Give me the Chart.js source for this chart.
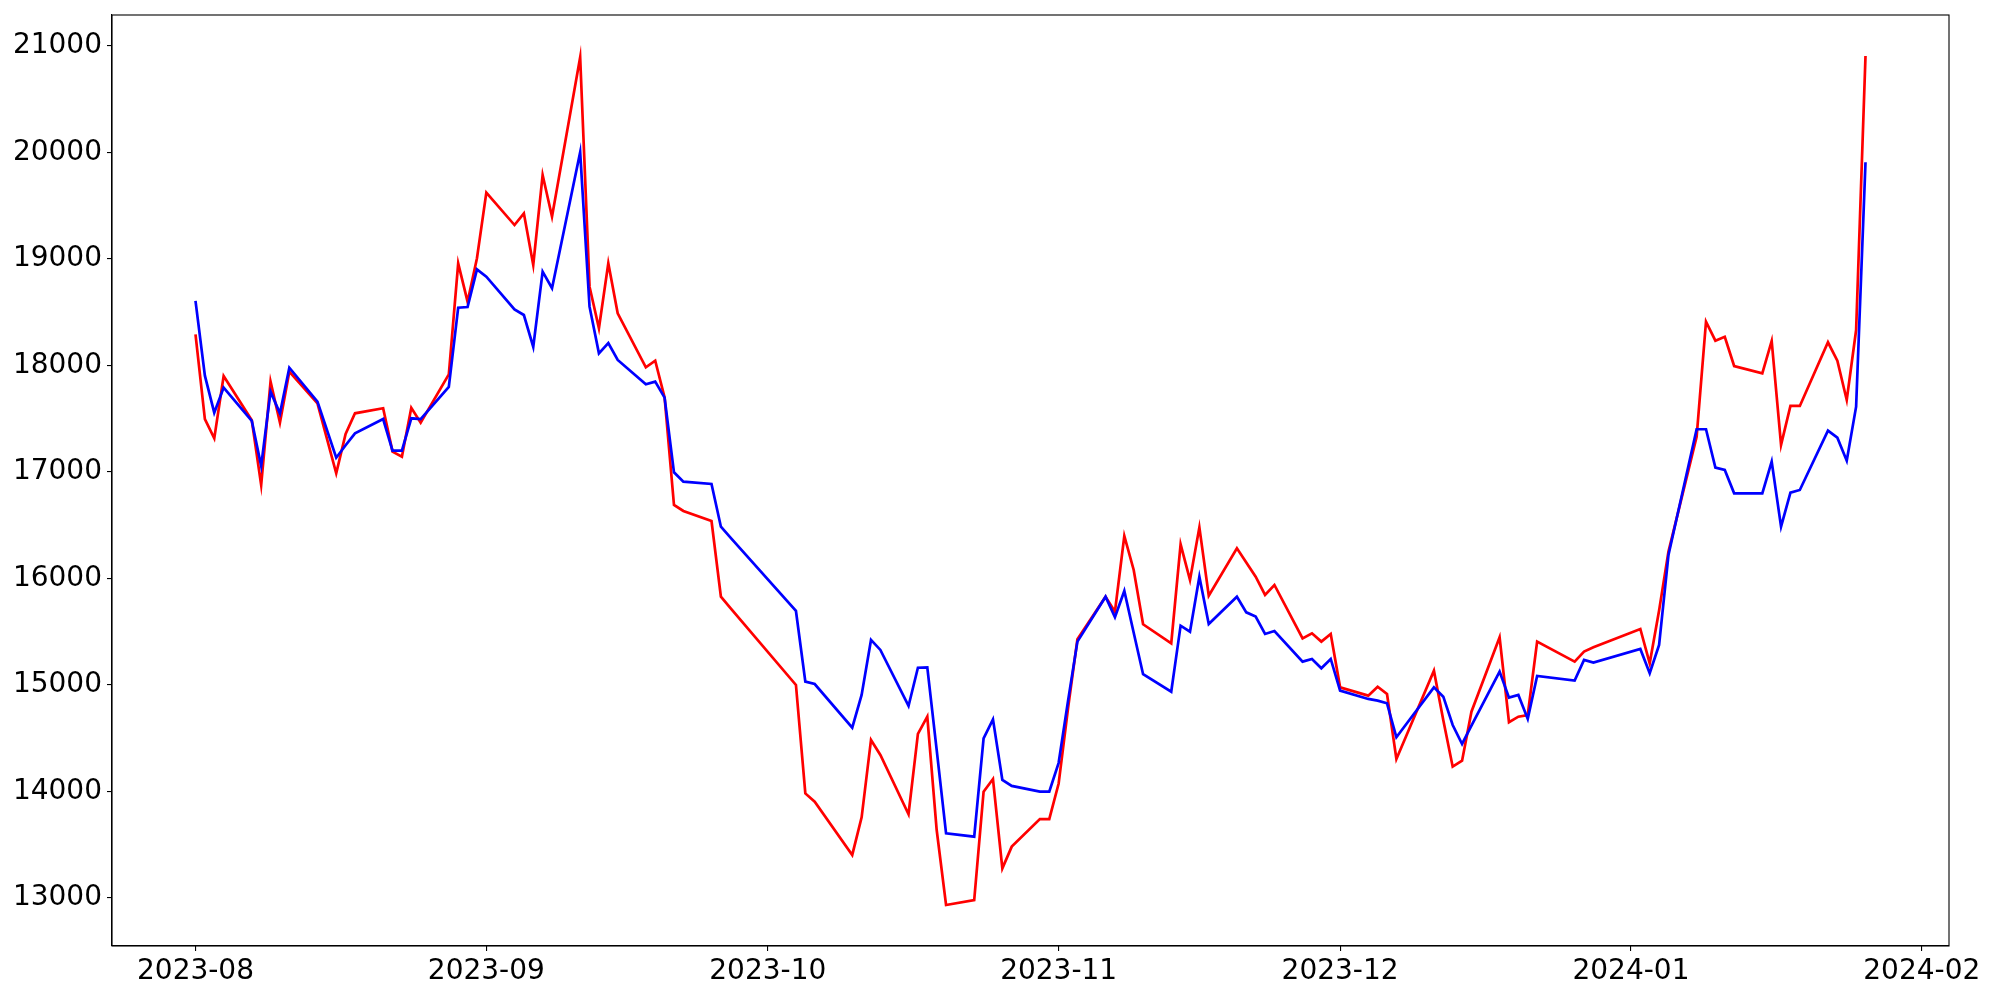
<!DOCTYPE html>
<html>
<head>
<meta charset="utf-8">
<script src="https://cdn.jsdelivr.net/npm/chart.js@4.4.0/dist/chart.umd.min.js"></script>
<style>
  body { margin: 0; background: #fff; }
  #wrap { width: 2000px; height: 1000px; }
</style>
</head>
<body>
<div id="wrap"><canvas id="chart" width="2000" height="1000"></canvas></div>
<script>
// trading days (KRX calendar)
var dates = [
  '2023-08-01','2023-08-02','2023-08-03','2023-08-04','2023-08-07','2023-08-08','2023-08-09','2023-08-10','2023-08-11',
  '2023-08-14','2023-08-16','2023-08-17','2023-08-18','2023-08-21','2023-08-22','2023-08-23','2023-08-24','2023-08-25',
  '2023-08-28','2023-08-29','2023-08-30','2023-08-31',
  '2023-09-01','2023-09-04','2023-09-05','2023-09-06','2023-09-07','2023-09-08','2023-09-11','2023-09-12','2023-09-13',
  '2023-09-14','2023-09-15','2023-09-18','2023-09-19','2023-09-20','2023-09-21','2023-09-22','2023-09-25','2023-09-26',
  '2023-09-27',
  '2023-10-04','2023-10-05','2023-10-06','2023-10-10','2023-10-11','2023-10-12','2023-10-13','2023-10-16','2023-10-17',
  '2023-10-18','2023-10-19','2023-10-20','2023-10-23','2023-10-24','2023-10-25','2023-10-26','2023-10-27','2023-10-30',
  '2023-10-31',
  '2023-11-01','2023-11-02','2023-11-03','2023-11-06','2023-11-07','2023-11-08','2023-11-09','2023-11-10','2023-11-13',
  '2023-11-14','2023-11-15','2023-11-16','2023-11-17','2023-11-20','2023-11-21','2023-11-22','2023-11-23','2023-11-24',
  '2023-11-27','2023-11-28','2023-11-29','2023-11-30',
  '2023-12-01','2023-12-04','2023-12-05','2023-12-06','2023-12-07','2023-12-08','2023-12-11','2023-12-12','2023-12-13',
  '2023-12-14','2023-12-15','2023-12-18','2023-12-19','2023-12-20','2023-12-21','2023-12-22','2023-12-26','2023-12-27',
  '2023-12-28',
  '2024-01-02','2024-01-03','2024-01-04','2024-01-05','2024-01-08','2024-01-09','2024-01-10','2024-01-11','2024-01-12',
  '2024-01-15','2024-01-16','2024-01-17','2024-01-18','2024-01-19','2024-01-22','2024-01-23','2024-01-24','2024-01-25',
  '2024-01-26'
];

var redValues = [
  18293,17497,17316,17901,17485,16878,17848,17463,17942,
  17645,16988,17357,17551,17598,17191,17144,17603,17463,
  17917,18959,18599,19007,
  19623,19319,19429,18944,19788,19397,20894,18740,18349,
  18959,18490,17983,18045,17700,16690,16634,16540,15829,
  15723,
  15000,13982,13904,13404,13757,14484,14343,13786,14540,
  14702,13638,12934,12981,13998,14117,13278,13482,13741,
  13741,
  14075,14780,15429,15829,15688,16399,16080,15570,15391,
  16321,15986,16480,15839,16283,16149,16017,15845,15939,
  15438,15485,15407,15479,
  14978,14900,14984,14915,14305,14512,15134,14668,14233,
  14289,14749,15448,14650,14702,14718,15407,15219,15313,
  15354,
  15526,15203,15700,16252,17330,18411,18233,18270,17995,
  17927,18230,17254,17620,17620,18218,18045,17676,18333,
  20906
];

var blueValues = [
  18606,17904,17557,17792,17479,17056,17754,17550,17979,
  17660,17134,17251,17363,17497,17200,17200,17504,17497,
  17798,18543,18549,18903,
  18834,18527,18474,18174,18881,18725,20002,18552,18114,
  18211,18052,17823,17848,17698,16997,16909,16887,16486,
  16385,
  15695,15031,15009,14599,14906,15423,15329,14803,15162,
  15166,14390,13607,13576,14499,14677,14108,14052,13998,
  13998,
  14269,14850,15407,15829,15636,15883,15490,15101,14937,
  15557,15500,16017,15573,15829,15682,15642,15479,15507,
  15219,15244,15157,15244,
  14947,14869,14853,14828,14509,14626,14978,14890,14624,
  14446,14618,15125,14881,14906,14681,15085,15041,15235,
  15210,
  15338,15110,15376,16221,17401,17401,17041,17019,16800,
  16800,17097,16486,16806,16831,17388,17322,17106,17613,
  19908
];

var monthTicks = ['2023-08-01','2023-09-01','2023-10-01','2023-11-01','2023-12-01','2024-01-01','2024-02-01'];
var yTicks = [13000,14000,15000,16000,17000,18000,19000,20000,21000];

function dayNum(s) {
  var p = s.split('-').map(Number);
  return (Date.UTC(p[0], p[1] - 1, p[2]) - Date.UTC(2023, 7, 1)) / 86400000;
}

var redData = [];
var blueData = [];
for (var i in dates) {
  redData.push({x: dayNum(dates[i]), y: redValues[i]});
  blueData.push({x: dayNum(dates[i]), y: blueValues[i]});
}

var tickFont = {family: 'DejaVu Sans', size: 28};

var frame = {
  id: 'frame',
  afterDraw: function(chart) {
    var a = chart.chartArea, c = chart.ctx;
    c.save();
    c.strokeStyle = '#000';
    c.lineWidth = 1.1;
    c.strokeRect(a.left, a.top, a.right - a.left, a.bottom - a.top);
    c.restore();
  }
};

var ctx = document.getElementById('chart');
new Chart(ctx, {
  type: 'line',
  data: {
    datasets: [
      {label: 'blue', data: blueData, borderColor: '#0000ff', borderWidth: 2.7, pointRadius: 0, tension: 0, fill: false, order: 0},
      {label: 'red', data: redData, borderColor: '#ff0000', borderWidth: 2.7, pointRadius: 0, tension: 0, fill: false, order: 1}
    ]
  },
  options: {
    responsive: false,
    animation: false,
    layout: {padding: {top: 15, right: 51, left: 0, bottom: 0}},
    plugins: {legend: {display: false}, tooltip: {enabled: false}},
    scales: {
      x: {
        type: 'linear',
        min: -8.9,
        max: 186.9,
        afterBuildTicks: function(s) {
          s.ticks = monthTicks.map(function(t) { return {value: dayNum(t)}; });
        },
        afterFit: function(s) { s.height = 54; s.paddingLeft = 0; s.paddingRight = 0; },
        ticks: {
          autoSkip: false, maxRotation: 0, color: '#000', font: tickFont, padding: 4,
          callback: function(v) {
            for (var j in monthTicks) {
              if (dayNum(monthTicks[j]) === v) return monthTicks[j].slice(0, 7);
            }
            return '';
          }
        },
        grid: {drawOnChartArea: false, tickLength: 5, color: '#000', lineWidth: 1.1},
        border: {color: '#000', width: 1.1}
      },
      y: {
        type: 'linear',
        min: 12549,
        max: 21291,
        afterBuildTicks: function(s) {
          s.ticks = yTicks.map(function(t) { return {value: t}; });
        },
        afterFit: function(s) { s.width = 112; s.paddingTop = 0; s.paddingBottom = 0; },
        ticks: {color: '#000', font: tickFont, padding: 5, callback: function(v) { return String(v); }},
        grid: {drawOnChartArea: false, tickLength: 5, color: '#000', lineWidth: 1.1},
        border: {color: '#000', width: 1.1}
      }
    }
  },
  plugins: [frame]
});
</script>
</body>
</html>
